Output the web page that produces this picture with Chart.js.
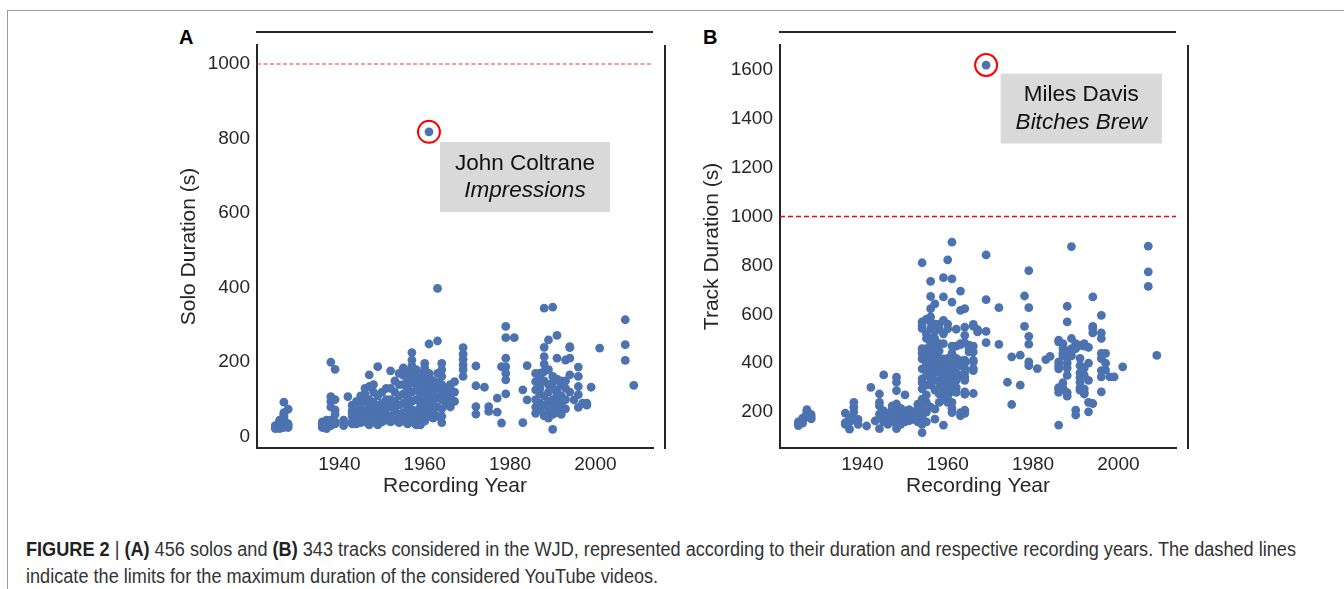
<!DOCTYPE html>
<html>
<head>
<meta charset="utf-8">
<script src="https://cdn.jsdelivr.net/npm/chart.js@4.4.1/dist/chart.umd.min.js"></script>
<style>
  html, body { margin: 0; padding: 0; background: #fff; }
  body { width: 1344px; height: 589px; position: relative; overflow: hidden; font-family: "Liberation Sans", Arial, sans-serif; }
  #frame { position: absolute; left: 7px; top: 10px; right: 0; bottom: 0; border-top: 1px solid #9a9a9a; border-left: 1px solid #9a9a9a; }
  canvas { position: absolute; top: 0; }
  #chartA { left: 160px; }
  #chartB { left: 683px; }
  .panel-label { position: absolute; top: 27px; font-weight: bold; font-size: 20px; line-height: 20px; color: #000; }
  #caption { position: absolute; left: 26px; top: 536px; font-family: "Liberation Sans Narrow", "Liberation Sans", sans-serif; font-size: 20px; line-height: 27px; color: #333; white-space: nowrap; transform-origin: 0 0; }
  #caption b { color: #222; }
</style>
</head>
<body>
<div id="frame"></div>
<div class="panel-label" style="left:179px">A</div>
<div class="panel-label" style="left:703px">B</div>
<canvas id="chartA" width="520" height="505"></canvas>
<canvas id="chartB" width="520" height="505"></canvas>
<div id="caption"><span id="capLine1"><b>FIGURE 2</b> | <b>(A)</b> 456 solos and <b>(B)</b> 343 tracks considered in the WJD, represented according to their duration and respective recording years. The dashed lines</span><br>indicate the limits for the maximum duration of the considered YouTube videos.</div>
<script>
// axis ticks
const xTicks = [1940, 1960, 1980, 2000];
const soloTicks = [0, 200, 400, 600, 800, 1000];
const trackTicks = [200, 400, 600, 800, 1000, 1200, 1400, 1600];
const xMin = 1920.7, xMax = 2013.5;
const videoLimit = 1000;

// (A) solo durations (s) per recording year
const soloYears = [1925, 1926, 1927, 1928, 1936, 1937, 1938, 1939, 1941, 1942,
  1943, 1944, 1945, 1946, 1947, 1948, 1949, 1950, 1951, 1952, 1953,
  1954, 1955, 1956, 1957, 1958, 1959, 1960, 1961, 1962, 1963, 1964, 1965, 1966, 1967,
  1969, 1972, 1974, 1975, 1977, 1978, 1979, 1981, 1983, 1984,
  1986, 1987, 1988, 1989, 1990, 1991, 1992, 1993, 1994, 1995, 1996, 1997, 1998, 1999,
  2001, 2007, 2009];
const soloDurations = [
  [22, 25, 28, 24, 30], [26, 32, 35, 40, 45, 30, 22], [93, 60, 55, 50, 45, 38, 28, 25, 65], [74, 30, 25, 35],
  [40, 30, 25, 35], [45, 32, 22, 38, 28], [200, 108, 95, 80, 38, 30, 45], [181, 100, 72, 60, 40, 35],
  [45, 30, 38], [108],
  [70, 55, 40, 85, 62, 35], [75, 48, 35, 95, 58, 88], [110, 68, 50, 42, 88, 38], [130, 70, 55, 40, 115, 95],
  [166, 135, 100, 80, 60, 45, 32], [120, 92, 72, 52, 40, 140], [188, 110, 85, 65, 48, 32],
  [90, 75, 58, 45, 120, 40], [100, 60, 45, 80, 130], [177, 100, 80, 55, 130, 40], [150, 120, 95, 70, 45],
  [170, 140, 110, 85, 60, 38], [185, 165, 140, 115, 90, 65, 42, 180],
  [175, 150, 125, 105, 80, 58, 160, 135, 110, 88, 70, 48, 35],
  [226, 206, 190, 170, 145, 120, 95, 72, 55, 40, 185, 160],
  [175, 140, 100, 70, 50, 32, 180, 155, 125],
  [170, 140, 115, 90, 60, 38, 32, 160, 130, 105, 80, 55],
  [197, 175, 150, 120, 95, 70, 185, 160, 135, 110, 85, 60, 42],
  [818, 249, 170, 145, 120, 100, 78, 55, 160, 130],
  [150, 125, 100, 75, 50, 140, 115, 90, 65],
  [398, 257, 130, 105, 80, 55, 170, 145],
  [197, 180, 162, 140, 120, 100, 75, 55, 38],
  [130, 105, 85, 120, 95], [140, 110, 85, 130, 100, 80], [148, 120, 95],
  [239, 222, 208, 193, 180, 162], [190, 137, 81, 61], [133], [81, 68], [104, 66], [37, 188],
  [296, 266, 211, 188, 170, 153, 115], [266], [126, 38], [191, 99],
  [170, 148, 126, 100, 80, 63], [171, 142, 115, 90, 72, 160, 130],
  [345, 240, 215, 195, 175, 150, 56, 110, 85], [260, 180, 140, 120, 95, 70, 50],
  [348, 162, 130, 100, 80, 20, 145, 60], [272, 211, 115, 90, 65, 125, 100, 155],
  [140, 75, 110, 88, 60, 150], [130, 100, 75, 206, 150], [242, 239, 211, 166, 120], [99],
  [187, 162, 135, 79, 113], [90], [85, 90], [133],
  [238], [314, 247, 205], [138]
];

// (B) track durations (s) per recording year
const trackYears = [1925, 1926, 1927, 1928, 1936, 1937, 1938, 1939, 1941, 1942,
  1943, 1944, 1945, 1946, 1947, 1948, 1949, 1950, 1951, 1952, 1953,
  1954, 1955, 1956, 1957, 1958, 1959, 1960, 1961, 1962, 1963, 1964, 1965, 1966, 1967,
  1969, 1972, 1974, 1975, 1977, 1978, 1979, 1981, 1983, 1984,
  1986, 1987, 1988, 1989, 1990, 1991, 1992, 1993, 1994, 1996, 1997, 1998, 1999,
  2001, 2007, 2009];
const trackDurations = [
  [150, 160, 145], [165, 168, 175, 155], [185, 200, 210, 195], [178, 190, 172],
  [196, 157, 150], [130, 160, 175], [240, 220, 200, 170], [170, 150], [143], [301],
  [164], [274, 240, 225, 192, 132, 175], [352, 160, 185, 205], [150, 170, 195, 180],
  [160, 210, 190, 225], [343, 322, 288, 233, 132, 170, 200, 155], [180, 215, 165, 190, 150],
  [270, 205, 175, 160, 195], [210, 180, 165, 200], [185, 170, 195, 200], [160, 232, 214, 195],
  [811, 569, 555, 542, 460, 440, 418, 377, 336, 320, 295, 253, 226, 210, 180, 150, 116],
  [501, 460, 400, 350, 310, 270, 240, 200, 580, 520, 430, 380, 160],
  [735, 673, 590, 569, 542, 501, 480, 450, 420, 400, 377, 350, 336, 310, 623, 220],
  [643, 530, 500, 470, 440, 400, 363, 330, 290, 212, 171, 560, 390],
  [560, 540, 420, 390, 363, 240, 274, 300, 330, 450, 480],
  [750, 671, 575, 520, 480, 418, 395, 370, 345, 320, 300, 275, 250, 147],
  [823, 560, 540, 420, 405, 380, 355, 330, 310, 290, 265, 240],
  [895, 745, 650, 470, 440, 410, 380, 350, 320, 285, 240, 215, 198],
  [539, 470, 420, 395, 360, 330, 300, 281],
  [695, 616, 480, 476, 410, 390, 350, 198, 185],
  [623, 548, 514, 483, 412, 400, 378, 363, 344, 330, 283, 273, 208, 195],
  [474, 460, 446], [559, 552, 470, 446, 412, 405, 378, 370, 276], [537, 528],
  [1620, 843, 660, 530, 484], [627, 477], [322], [426, 231], [433, 310], [675, 551],
  [779, 627, 510, 478, 405, 390], [378], [415], [428],
  [494, 487, 405, 390, 377, 300, 295, 281, 147], [480, 460, 440, 430, 320, 300],
  [633, 569, 450, 420, 400, 380, 350, 280, 265], [877, 501, 445, 430, 460],
  [480, 460, 208, 188], [473, 420, 390, 360, 340, 322, 300, 290],
  [480, 470, 380, 350, 295, 274, 280], [465, 400, 330, 240, 201], [671, 551, 542, 524, 235],
  [596, 524, 501, 440, 419, 370, 344, 283], [440, 400, 372], [344], [344],
  [385], [879, 774, 714], [432]
];

const soloHighlight = [{ x: 1961, y: 818 }];
const trackHighlight = [{ x: 1969, y: 1620 }];

function toPoints(years, durations) {
  return years.flatMap((yr, i) => durations[i].map(d => ({ x: yr, y: d })));
}

const axisColor = "#262626";

// offset top/right spines + grey note box
const framePlugin = {
  id: "frame",
  afterDatasetsDraw(chart, args, opts) {
    const { ctx, chartArea: a } = chart;
    ctx.save();
    ctx.strokeStyle = axisColor;
    ctx.lineWidth = 2;
    ctx.beginPath();
    ctx.moveTo(a.left - 1, a.top - 13);
    ctx.lineTo(a.right, a.top - 13);
    ctx.moveTo(a.right + 12, a.top);
    ctx.lineTo(a.right + 12, a.bottom + 1);
    ctx.stroke();

    const n = opts.note;
    const cx = chart.scales.x.getPixelForValue(n.x);
    const cy = chart.scales.y.getPixelForValue(n.y);
    const fonts = ['22.5px "Liberation Sans", Arial', 'italic 22.5px "Liberation Sans", Arial'];
    let w = 0;
    n.lines.forEach((t, i) => { ctx.font = fonts[i]; w = Math.max(w, ctx.measureText(t).width); });
    w += 30;
    const h = 70;
    ctx.fillStyle = "#d9d9d9";
    ctx.fillRect(cx - w / 2, cy - h / 2, w, h);
    ctx.fillStyle = "#111";
    ctx.textAlign = "center";
    ctx.textBaseline = "middle";
    n.lines.forEach((t, i) => {
      ctx.font = fonts[i];
      ctx.fillText(t, cx, cy - 13.5 + i * 27.5);
    });
    ctx.restore();
  }
};

function makeChart(canvasId, points, highlight, yMin, yMax, yTicks, yTitle, limitColor, limitWidth, limitDash, note) {
  return new Chart(document.getElementById(canvasId), {
    type: "scatter",
    data: {
      datasets: [
        {
          data: highlight,
          pointRadius: 11,
          pointBackgroundColor: "rgba(0,0,0,0)",
          pointBorderColor: "#ff0000",
          pointBorderWidth: 2
        },
        {
          data: points,
          pointRadius: 4.4,
          pointBackgroundColor: "#4c72b0",
          pointBorderWidth: 0
        },
        {
          data: [{ x: xMin, y: videoLimit }, { x: xMax, y: videoLimit }],
          showLine: true,
          pointRadius: 0,
          borderColor: limitColor,
          borderWidth: limitWidth,
          borderDash: limitDash
        }
      ]
    },
    options: {
      responsive: false,
      animation: false,
      events: [],
      layout: { autoPadding: false, padding: { left: 0, top: 45, right: 27, bottom: 0 } },
      plugins: {
        legend: { display: false },
        tooltip: { enabled: false },
        frame: { note }
      },
      scales: {
        x: {
          type: "linear",
          min: xMin,
          max: xMax,
          afterBuildTicks: s => { s.ticks = xTicks.map(v => ({ value: v })); },
          afterFit: s => { s.height = 57; s.paddingLeft = 0; s.paddingRight = 0; },
          grid: { display: false, drawTicks: false },
          border: { display: true, color: axisColor, width: 2 },
          ticks: { color: axisColor, font: { size: 19 }, padding: 5, callback: v => String(v) },
          title: { display: true, text: "Recording Year", color: axisColor, font: { size: 21 }, padding: { top: 0, bottom: 6 } }
        },
        y: {
          type: "linear",
          min: yMin,
          max: yMax,
          afterBuildTicks: s => { s.ticks = yTicks.map(v => ({ value: v })); },
          afterFit: s => { s.width = 97; s.paddingTop = 0; s.paddingBottom = 0; },
          grid: { display: false, drawTicks: false },
          border: { display: true, color: axisColor, width: 2 },
          ticks: { color: axisColor, font: { size: 19 }, padding: 7, callback: v => String(v) },
          title: { display: true, text: yTitle, color: axisColor, font: { size: 21 }, padding: { top: 17, bottom: 0 } }
        }
      }
    },
    plugins: [framePlugin]
  });
}

Chart.defaults.font.family = '"Liberation Sans", Arial, sans-serif';

makeChart("chartA", toPoints(soloYears, soloDurations), soloHighlight, -30, 1051, soloTicks,
  "Solo Duration (s)", "#e03c3c", 1.2, [4, 2.5],
  { x: 1983.5, y: 697, lines: ["John Coltrane", "Impressions"] });

makeChart("chartB", toPoints(trackYears, trackDurations), trackHighlight, 53, 1702, trackTicks,
  "Track Duration (s)", "#ff0000", 1.5, [5, 3],
  { x: 1991.3, y: 1442, lines: ["Miles Davis", "Bitches Brew"] });

// squeeze the caption to the narrow width of the original typeface
const caption = document.getElementById("caption");
const lineWidth = document.getElementById("capLine1").getBoundingClientRect().width;
caption.style.transform = "scaleX(" + (1270 / lineWidth) + ")";
</script>
</body>
</html>
